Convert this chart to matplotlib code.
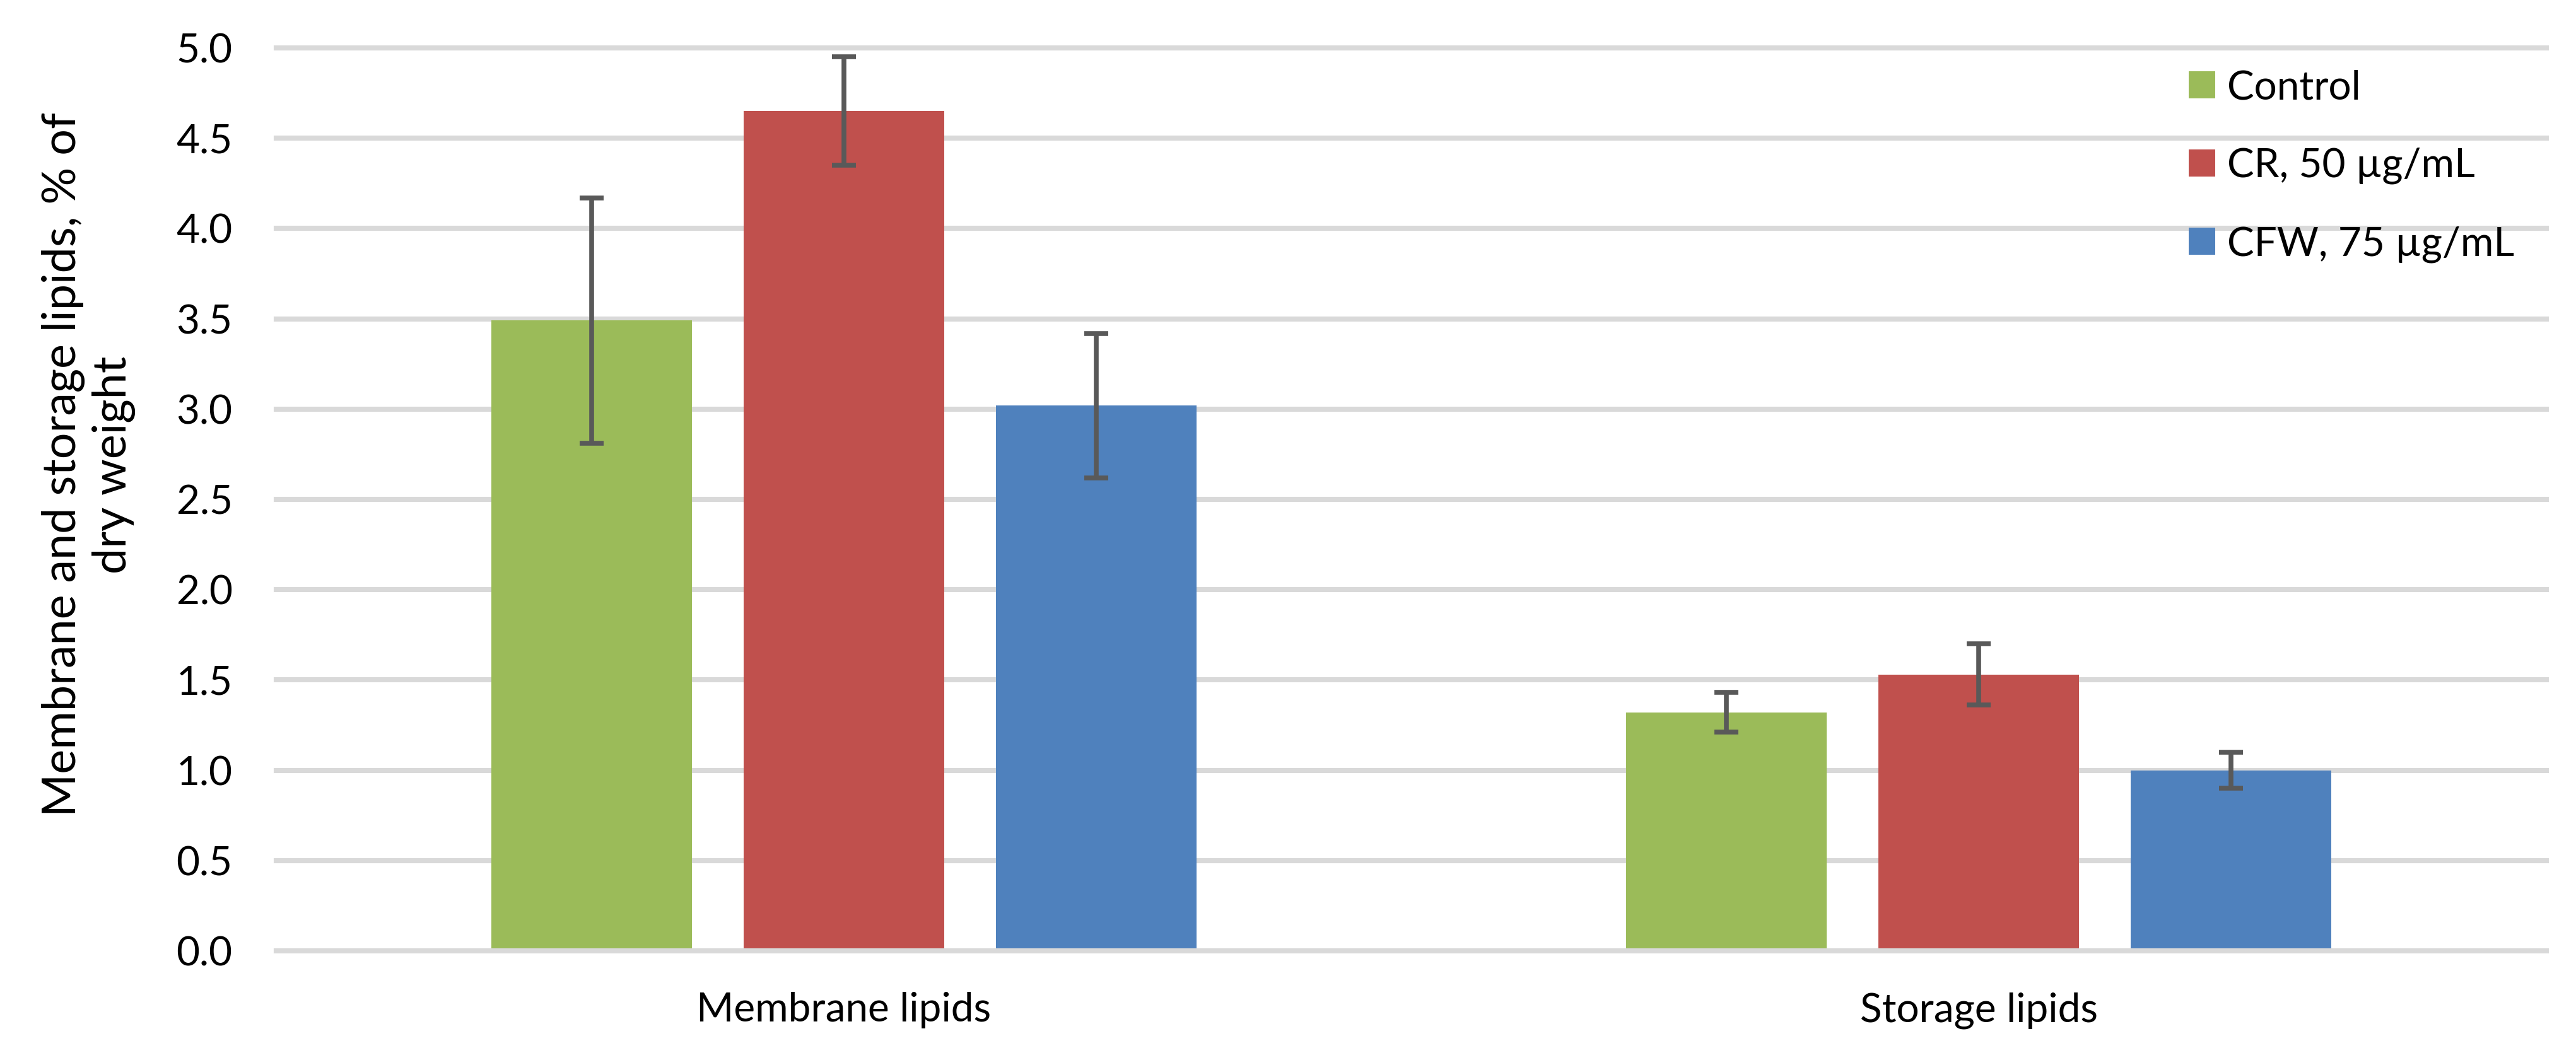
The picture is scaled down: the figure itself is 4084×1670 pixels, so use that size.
import matplotlib
matplotlib.use("Agg")
import matplotlib.pyplot as plt
import numpy as np

# ---- data ----
categories = ["Membrane lipids", "Storage lipids"]
series_names = ["Control", "CR, 50 µg/mL", "CFW, 75 µg/mL"]
control = [3.49, 1.32]
cr_50 = [4.65, 1.53]
cfw_75 = [3.02, 1.00]
control_err = [0.68, 0.11]
cr_50_err = [0.30, 0.17]
cfw_75_err = [0.40, 0.10]
yticks = [0.0, 0.5, 1.0, 1.5, 2.0, 2.5, 3.0, 3.5, 4.0, 4.5, 5.0]
ylabel = "Membrane and storage lipids, % of\ndry weight"

colors = ["#9BBB59", "#C0504D", "#4F81BD"]

plt.rcParams['font.family'] = ['Lato', 'DejaVu Sans']

W, H = 4084, 1670
fig = plt.figure(figsize=(W / 100, H / 100), dpi=100)
ax_left, ax_right, ax_top, ax_bottom = 438, 4037, 76, 1508
ax = fig.add_axes([ax_left / W, 1 - ax_bottom / H, (ax_right - ax_left) / W, (ax_bottom - ax_top) / H])

x = np.arange(len(categories)) + 0.5
width = 0.1767
step = 0.2223
series = [control, cr_50, cfw_75]
errors = [control_err, cr_50_err, cfw_75_err]
for i, (vals, errs, name, c) in enumerate(zip(series, errors, series_names, colors)):
    pos = x + (i - 1) * step
    ax.bar(pos, vals, width, color=c, label=name, zorder=1)
    ax.errorbar(pos, vals, yerr=errs, fmt='none', ecolor='#595959',
                elinewidth=5.5, capsize=14, capthick=5.5, zorder=3)

ax.set_xlim(0, 2)
ax.set_ylim(0, 5)
ax.set_yticks(yticks)
ax.set_yticklabels([f"{t:.1f}" for t in yticks])
ax.set_xticks(x)
ax.set_xticklabels(categories)

ax.set_axisbelow(True)
ax.yaxis.grid(True, color='#D9D9D9', linewidth=5.8)
for gl in ax.get_ygridlines():
    gl.set_clip_on(False)
for s in ['top', 'right', 'left']:
    ax.spines[s].set_visible(False)
ax.spines['bottom'].set_color('#D9D9D9')
ax.spines['bottom'].set_linewidth(5.8)
ax.spines['bottom'].set_zorder(2.5)

ax.tick_params(axis='both', length=0, labelsize=46, colors='black')
ax.tick_params(axis='y', pad=50)
ax.tick_params(axis='x', pad=47)

fig.text(140 / W, 1 - 737 / H, ylabel, rotation=90, ha='center', va='center',
         fontsize=53, multialignment='center')

ax.legend(loc='upper left', bbox_to_anchor=(3470 / W, 1 - 110 / H),
          bbox_transform=fig.transFigure, frameon=False, fontsize=46,
          handlelength=0.65, handleheight=0.65, handletextpad=0.3,
          labelspacing=1.03, borderpad=0, borderaxespad=0)

fig.savefig("out.png", dpi=100, facecolor='white')
